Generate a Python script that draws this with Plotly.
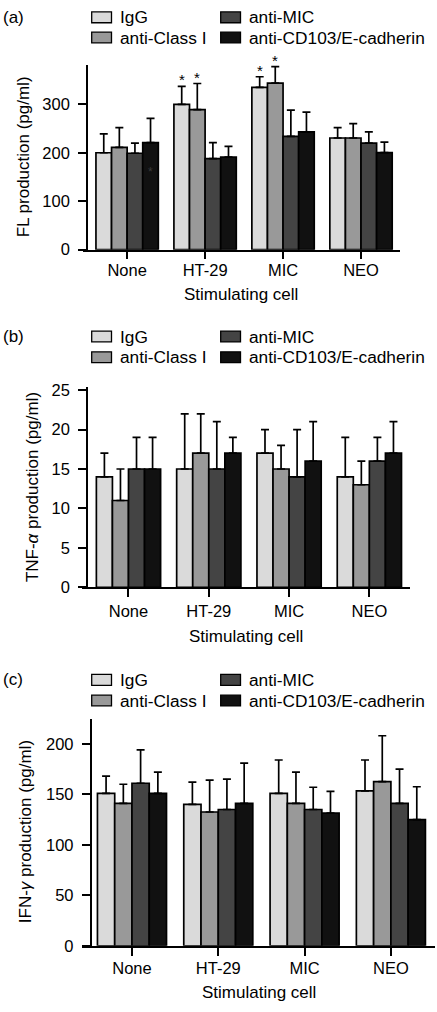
import plotly.graph_objects as go

W, H = 437, 1012

cells = ["None", "HT-29", "MIC", "NEO"]
series = ["IgG", "anti-Class I", "anti-MIC", "anti-CD103/E-cadherin"]
colors = ["#dadada", "#999999", "#444444", "#111111"]

# Panel (a): FL production (pg/ml)
fl_igg = [200, 300, 335, 230.5]
fl_classI = [211, 289, 344, 230.5]
fl_mic = [199, 188, 234, 220]
fl_cd103 = [221, 191, 243, 200.5]
fl_igg_top = [239, 337, 357, 252]
fl_classI_top = [252, 343, 378, 260]
fl_mic_top = [220, 221, 288, 243]
fl_cd103_top = [271, 213, 284, 222]

# Panel (b): TNF-alpha production (pg/ml)
tnf_igg = [14, 15, 17, 14]
tnf_classI = [11, 17, 15, 13]
tnf_mic = [15, 15, 14, 16]
tnf_cd103 = [15, 17, 16, 17]
tnf_igg_top = [17, 22, 20, 19]
tnf_classI_top = [15, 22, 18, 16]
tnf_mic_top = [19, 21, 20, 19]
tnf_cd103_top = [19, 19, 21, 21]

# Panel (c): IFN-gamma production (pg/ml)
ifn_igg = [151, 140, 151, 153.5]
ifn_classI = [141, 132.5, 141, 162.5]
ifn_mic = [161, 135, 135, 141]
ifn_cd103 = [151, 141, 131.5, 125]
ifn_igg_top = [168, 162, 184, 184]
ifn_classI_top = [160, 164, 172, 208]
ifn_mic_top = [194, 165, 157, 175]
ifn_cd103_top = [172, 181, 153, 157.5]

# significance markers (panel a): (cell index, series index)
sig_a = [(1, 0), (1, 1), (2, 0), (2, 1)]

panels = [
    dict(means=[fl_igg, fl_classI, fl_mic, fl_cd103],
         tops=[fl_igg_top, fl_classI_top, fl_mic_top, fl_cd103_top],
         ytitle="FL production (pg/ml)", label="(a)",
         xdom=(82.7, 400), ydom=(247.3, 60), ypos=87, yrange=[0, 381],
         xrange=[-0.57, 3.5], dtick=100, ytitle_x=23, xtitle_y=293,
         leg_rows=(11.5, 32), label_y=12, xstand=-3),
    dict(means=[tnf_igg, tnf_classI, tnf_mic, tnf_cd103],
         tops=[tnf_igg_top, tnf_classI_top, tnf_mic_top, tnf_cd103_top],
         ytitle="TNF-<i>α</i> production (pg/ml)", label="(b)",
         xdom=(82, 410), ydom=(590, 386.7), ypos=87, yrange=[0, 25.4],
         xrange=[-0.579, 3.506], dtick=5, ytitle_x=32, xtitle_y=640,
         leg_rows=(335.5, 356.5), label_y=335, xstand=0),
    dict(means=[ifn_igg, ifn_classI, ifn_mic, ifn_cd103],
         tops=[ifn_igg_top, ifn_classI_top, ifn_mic_top, ifn_cd103_top],
         ytitle="IFN-<i>γ</i> production (pg/ml)", label="(c)",
         xdom=(82, 435), ydom=(954, 723.3), ypos=90.7, yrange=[0, 225],
         xrange=[-0.579, 3.511], dtick=50, ytitle_x=25, xtitle_y=1001.5,
         leg_rows=(684, 705), label_y=684, xstand=-2),
]

FONT = "Liberation Sans, Arial, Helvetica, sans-serif"
fig = go.Figure()
annotations = []
shapes = []

for p_i, p in enumerate(panels):
    sfx = "" if p_i == 0 else str(p_i + 1)
    xa, ya = "x" + sfx, "y" + sfx
    for s_i, name in enumerate(series):
        m = p["means"][s_i]
        t = p["tops"][s_i]
        fig.add_trace(go.Bar(
            x=cells, y=m, name=name, xaxis=xa, yaxis=ya, showlegend=False,
            marker=dict(color=colors[s_i], line=dict(color="black", width=1.7)),
            error_y=dict(type="data", symmetric=False,
                         array=[tt - mm for tt, mm in zip(t, m)],
                         arrayminus=[0] * len(m),
                         color="black", thickness=1.7, width=4),
        ))
    x0, x1 = p["xdom"]
    yb, yt = p["ydom"]
    fig.update_layout(**{
        "xaxis" + sfx: dict(
            domain=[x0 / W, x1 / W], anchor=ya, range=p["xrange"],
            type="category", showline=True, linecolor="black", linewidth=1.7,
            ticks="outside", ticklen=8, tickwidth=1.7, tickcolor="black",
            showgrid=False, zeroline=False, fixedrange=True,
            tickfont=dict(size=16.5, color="black", family=FONT),
            ticklabelstandoff=p["xstand"],
        ),
        "yaxis" + sfx: dict(
            domain=[1 - yb / H, 1 - yt / H], anchor="free",
            position=p["ypos"] / W, range=p["yrange"], dtick=p["dtick"],
            showline=True, linecolor="black", linewidth=1.7,
            ticks="outside", ticklen=8, tickwidth=1.7, tickcolor="black",
            showgrid=False, zeroline=False, fixedrange=True,
            tickfont=dict(size=16.5, color="black", family=FONT),
            ticklabelstandoff=5,
        ),
    })
    # axis titles
    annotations.append(dict(
        text=p["ytitle"], xref="paper", yref="paper",
        x=p["ytitle_x"] / W, y=1 - (yb + yt) / 2 / H, textangle=-90,
        showarrow=False, xanchor="center", yanchor="middle",
        font=dict(size=17, color="black", family=FONT)))
    annotations.append(dict(
        text="Stimulating cell", xref="paper", yref="paper",
        x=(x0 + x1) / 2 / W, y=1 - p["xtitle_y"] / H,
        showarrow=False, xanchor="center", yanchor="middle",
        font=dict(size=17, color="black", family=FONT)))
    # panel label
    annotations.append(dict(
        text=p["label"], xref="paper", yref="paper",
        x=1 / W, y=1 - p["label_y"] / H, showarrow=False,
        xanchor="left", yanchor="middle",
        font=dict(size=17, color="black", family=FONT)))
    # legend (manual, 2 x 2)
    leg_pos = [(0, 0), (1, 0), (0, 1), (1, 1)]  # (row, col) per series
    col_x = [(91.7, 111.5, 117.5), (220.7, 240.5, 246.5)]
    for s_i, name in enumerate(series):
        r, c = leg_pos[s_i]
        sx0, sx1, tx = col_x[c]
        cy = p["leg_rows"][r]
        shapes.append(dict(
            type="rect", xref="paper", yref="paper",
            x0=sx0 / W, x1=sx1 / W, y0=1 - (cy - 5.5) / H, y1=1 - (cy + 5.5) / H,
            fillcolor=colors[s_i], line=dict(color="black", width=1.3)))
        annotations.append(dict(
            text=name, xref="paper", yref="paper", x=tx / W, y=1 - cy / H,
            showarrow=False, xanchor="left", yanchor="middle",
            font=dict(size=17.3, color="black", family=FONT)))

# significance asterisks on panel (a)
offsets = [-0.3, -0.1, 0.1, 0.3]
for ci, si in sig_a:
    annotations.append(dict(
        text="*", xref="x", yref="y", x=ci + offsets[si],
        y=panels[0]["tops"][si][ci], showarrow=False,
        xanchor="center", yanchor="bottom", yshift=-4,
        font=dict(size=15, color="black", family=FONT)))
# faint stray mark inside the None / anti-CD103 bar
annotations.append(dict(
    text="*", xref="x", yref="y", x=0 + offsets[3], y=168, showarrow=False,
    xanchor="center", yanchor="middle", yshift=-4,
    font=dict(size=12, color="#3a3a3a", family=FONT)))

fig.update_layout(
    width=W, height=H, margin=dict(l=0, r=0, t=0, b=0),
    paper_bgcolor="white", plot_bgcolor="white",
    barmode="group", bargap=0.2, bargroupgap=0,
    showlegend=False, annotations=annotations, shapes=shapes,
    font=dict(family=FONT, color="black"),
)

fig.write_html("out.html", config={"displayModeBar": False},
               post_script="document.body.style.margin='0';")
